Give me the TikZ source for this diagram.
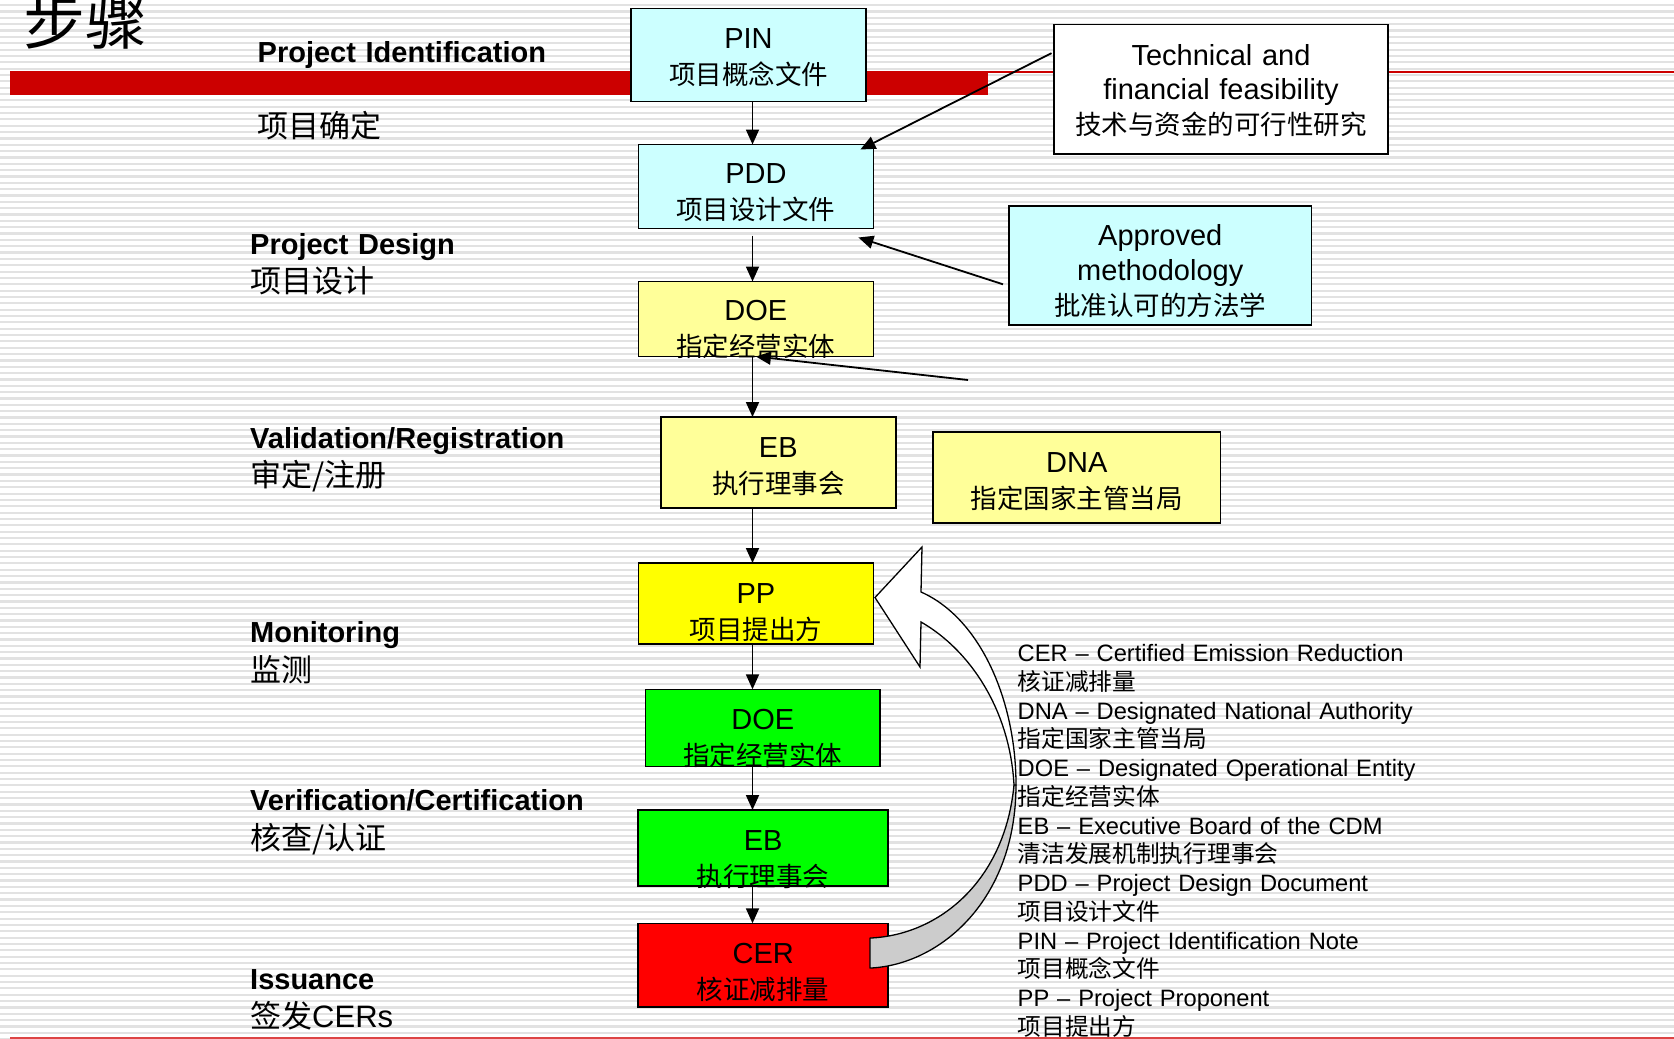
\documentclass[tikz,border=0pt]{standalone}
\usepackage{fontspec}
\usepackage{xcolor}
\usepackage{tikz}
\usetikzlibrary{arrows.meta}
\setmainfont{Liberation Sans}
\newfontfamily\cjk{Noto Sans CJK SC}
\definecolor{cyanbox}{HTML}{CCFFFF}
\definecolor{paleyellow}{HTML}{FFFF99}
\definecolor{ppyellow}{HTML}{FFFF00}
\definecolor{doegreen}{HTML}{00FF00}
\definecolor{cerred}{HTML}{FF0000}
\definecolor{barred}{HTML}{CC0000}
\definecolor{footred}{HTML}{DD4444}
\definecolor{stripe}{HTML}{E2E2E2}
\definecolor{twist}{HTML}{CCCCCC}
\newcommand{\boxzh}[1]{{\cjk\fontsize{26.5}{36}\selectfont #1}}
\newcommand{\phasezh}[1]{{\cjk\mdseries\fontsize{31}{38.5}\selectfont #1}}
\tikzset{
  stage/.style={draw, line width=1.5pt, inner sep=0pt, outer sep=0pt, anchor=north west, align=center, text height=40pt, font=\fontsize{29}{36}\selectfont},
  flow/.style={line width=1.8pt, -{Triangle[length=15pt,width=13pt]}},
  phase/.style={anchor=base west, inner sep=0pt, align=left, text width=380pt, font=\bfseries\fontsize{29}{38.5}\selectfont},
}

\begin{document}
\begin{tikzpicture}[x=1pt,y=-1pt]%
\useasboundingbox (0,0) rectangle (1674,1039);%
\fill[white] (0,0) rectangle (1674,1039);%
\foreach \k in {0,...,163} \fill[stripe] (0,{4.1+6.343*\k}) rectangle (1674,{6.3+6.343*\k});%
\fill[barred] (10,70.7) rectangle (988,95);%
\draw[barred, line width=2pt] (988,71.7) -- (1674,71.7);%
\draw[footred, line width=1.2pt] (10,1038) -- (1674,1038);%
\node[anchor=base west, inner sep=0pt, font=\cjk\fontsize{62}{62}\selectfont] (title) at (23,44) {步骤};%
\node[phase] (ident) at (257.5,62.7) {Project Identification\\[36.5pt]\phasezh{项目确定}};%
\node[phase] (design) at (250,254) {Project Design\\\phasezh{项目设计}};%
\node[phase] (valid) at (250,448) {Validation/Registration\\\phasezh{审定/注册}};%
\node[phase] (monit) at (250,642.6) {Monitoring\\\phasezh{监测}};%
\node[phase] (verif) at (250,810.7) {Verification/Certification\\\phasezh{核查/认证}};%
\node[phase] (issue) at (250,989) {Issuance\\\phasezh{签发}{\mdseries\fontsize{31}{38.5}\selectfont CERs}};%
\node[stage, fill=cyanbox, text width=235pt, text depth=53pt] (pin) at (631,8.4) {PIN\\\boxzh{项目概念文件}};%
\node[stage, fill=cyanbox, text width=235pt, text height=39pt, text depth=45pt] (pdd) at (638.4,144.5) {PDD\\\boxzh{项目设计文件}};%
\node[stage, fill=paleyellow, text width=235pt, text height=38.5pt, text depth=36.5pt] (doeval) at (638.4,281.5) {DOE\\\boxzh{指定经营实体}};%
\node[stage, fill=paleyellow, text width=235pt, text height=40.5pt, text depth=50.5pt] (ebreg) at (660.8,417) {EB\\\boxzh{执行理事会}};%
\node[stage, fill=paleyellow, text width=287.5pt, text height=40.5pt, text depth=50.5pt] (dna) at (933,432) {DNA\\\boxzh{指定国家主管当局}};%
\node[stage, fill=ppyellow, text width=235pt, text depth=41pt] (pp) at (638.4,563) {PP\\\boxzh{项目提出方}};%
\node[stage, fill=doegreen, text width=234.5pt, text depth=37.4pt] (doever) at (645.5,689.3) {DOE\\\boxzh{指定经营实体}};%
\node[stage, fill=doegreen, text width=250pt, text depth=36pt] (ebcert) at (638.2,810) {EB\\\boxzh{执行理事会}};%
\node[stage, fill=cerred, text width=250pt, text depth=43.5pt] (cer) at (638.2,923.3) {CER\\\boxzh{核证减排量}};%
\node[stage, fill=white, text width=334pt, text height=41pt, text depth=88.7pt, font=\fontsize{29}{34.5}\selectfont] (tech) at (1054,24.3) {Technical and\\financial feasibility\\\boxzh{技术与资金的可行性研究}};%
\node[stage, fill=cyanbox, text width=302.5pt, text height=39.3pt, text depth=79.7pt, font=\fontsize{29}{35}\selectfont] (meth) at (1009,205.8) {Approved\\methodology\\\boxzh{批准认可的方法学}};%
\node[anchor=base west, inner sep=0pt, align=left, text width=420pt, font=\fontsize{23.7}{28.75}\selectfont] (gloss) at (1017.5,661.7) {CER – Certified Emission Reduction\\{\cjk 核证减排量}\\DNA – Designated National Authority\\{\cjk 指定国家主管当局}\\DOE – Designated Operational Entity\\{\cjk 指定经营实体}\\EB – Executive Board of the CDM\\{\cjk 清洁发展机制执行理事会}\\PDD – Project Design Document\\{\cjk 项目设计文件}\\PIN – Project Identification Note\\{\cjk 项目概念文件}\\PP – Project Proponent\\{\cjk 项目提出方}};%
\coordinate (spine) at (752.5,0);%
\draw[flow] (pin.south -| spine) -- (pdd.north -| spine);%
\draw[flow, shorten <=7pt] (pdd.south -| spine) -- (doeval.north -| spine);%
\draw[flow] (doeval.south -| spine) -- (ebreg.north -| spine);%
\draw[flow] (ebreg.south -| spine) -- (pp.north -| spine);%
\draw[flow] (pp.south -| spine) -- (doever.north -| spine);%
\draw[flow] (doever.south -| spine) -- (ebcert.north -| spine);%
\draw[flow] (ebcert.south -| spine) -- (cer.north -| spine);%
\coordinate (techtail) at ([xshift=-2.5pt,yshift=36pt]tech.west);%
\coordinate (pddne) at ([xshift=-13pt,yshift=-5pt]pdd.north east);%
\draw[flow] (techtail) -- (pddne);%
\coordinate (methtail) at ([xshift=-6pt,yshift=-19pt]meth.west);%
\coordinate (pddse) at ([xshift=-15pt,yshift=-9pt]pdd.south east);%
\draw[flow] (methtail) -- (pddse);%
\coordinate (loose) at (968,380);%
\draw[flow] (loose) -- (doeval.south);%
\coordinate (cerport) at ([xshift=-18.2pt,yshift=27pt]cer.east);%
\coordinate (cerfoot) at ([xshift=-18.2pt,yshift=-3pt]cer.east);%
\coordinate (pptip) at ([xshift=1.6pt,yshift=6pt]pp.east);%
\filldraw[fill=twist, line width=1.3pt, line join=round] (cerport) .. controls (940,935) and (1005,880) .. (1014,785) -- (1016,785) .. controls (1016,900) and (940,965) .. (cerfoot) -- cycle;%
\filldraw[fill=white, line width=1.3pt] (pptip) -- (922,547) -- (921,592) .. controls (980,618) and (1016,700) .. (1016,785) -- (1014,785) .. controls (1010,710) and (970,650) .. (921,622) -- (920,667) -- cycle;%
\end{tikzpicture}
\end{document}
